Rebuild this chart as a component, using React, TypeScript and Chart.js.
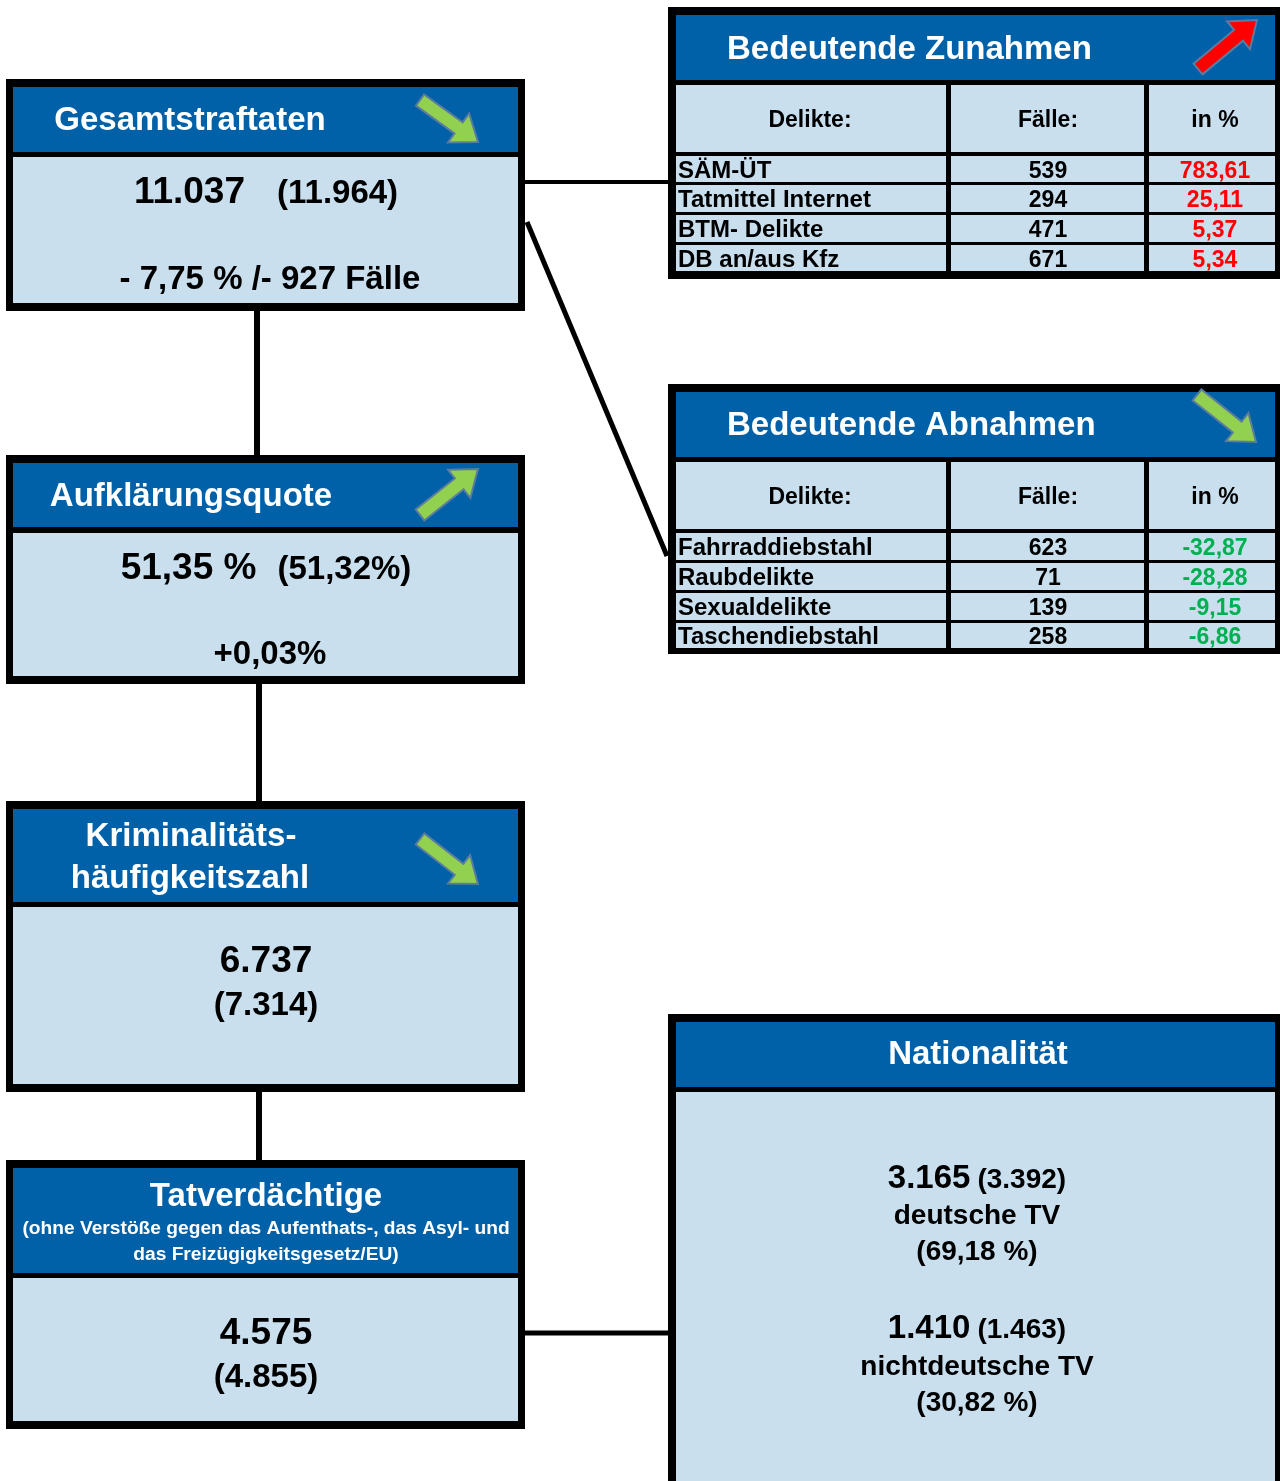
import React, { useEffect, useRef } from "react";
import { Chart, registerables } from "chart.js";

Chart.register(...registerables);

// ---- Data ----
const totalOffenses = [11037, 11964]; // current, (previous)
const totalChangePct = -7.75;
const totalChangeCases = -927;
const clearanceRate = [51.35, 51.32];
const clearanceChange = 0.03;
const crimeRate = [6737, 7314];
const suspects = [4575, 4855];
const germanSuspects = [3165, 3392];
const germanShare = 69.18;
const foreignSuspects = [1410, 1463];
const foreignShare = 30.82;

const increaseOffenses = ["SÄM-ÜT", "Tatmittel Internet", "BTM- Delikte", "DB an/aus Kfz"];
const increaseCases = [539, 294, 471, 671];
const increasePct = [783.61, 25.11, 5.37, 5.34];

const decreaseOffenses = ["Fahrraddiebstahl", "Raubdelikte", "Sexualdelikte", "Taschendiebstahl"];
const decreaseCases = [623, 71, 139, 258];
const decreasePct = [-32.87, -28.28, -9.15, -6.86];

const tableHeaders = ["Delikte:", "Fälle:", "in %"];

// ---- formatting ----
const fmtInt = (n: number) =>
  (n < 0 ? "-" : "") + Math.abs(n).toString().replace(/\B(?=(\d{3})+(?!\d))/g, ".");
const fmtDec = (n: number) => n.toFixed(2).replace(".", ",");

const BLUE = "#0060A8";
const LIGHT = "#C9DFEE";
const BLACK = "#000000";
const WHITE = "#FFFFFF";
const RED = "#FF0000";
const GREEN = "#00B050";
const ARROW_GREEN = "#92D050";
const FONT = '"Liberation Sans", Arial, Helvetica, sans-serif';

const infographic = {
  id: "infographic",
  beforeDraw(chart: any) {
    const ctx = chart.ctx;
    ctx.save();
    ctx.fillStyle = WHITE;
    ctx.fillRect(0, 0, chart.width, chart.height);
    ctx.restore();
  },
  afterDraw(chart: any) {
    const ctx: CanvasRenderingContext2D = chart.ctx;
    const xs = chart.scales.x;
    const ys = chart.scales.y;
    const X = (v: number) => xs.getPixelForValue(v);
    const Y = (v: number) => ys.getPixelForValue(v);

    const rect = (x0: number, y0: number, x1: number, y1: number, c: string) => {
      ctx.fillStyle = c;
      const a = X(x0), b = Y(y0), cc = X(x1), d = Y(y1);
      ctx.fillRect(Math.min(a, cc), Math.min(b, d), Math.abs(cc - a), Math.abs(d - b));
    };
    const line = (x0: number, y0: number, x1: number, y1: number, w: number) => {
      ctx.strokeStyle = BLACK;
      ctx.lineWidth = w;
      ctx.lineCap = "butt";
      ctx.beginPath();
      ctx.moveTo(X(x0), Y(y0));
      ctx.lineTo(X(x1), Y(y1));
      ctx.stroke();
    };
    const text = (
      s: string, x: number, y: number, size: number, color: string,
      align: CanvasTextAlign = "center"
    ) => {
      ctx.font = `bold ${size}px ${FONT}`;
      ctx.fillStyle = color;
      ctx.textAlign = align;
      ctx.textBaseline = "alphabetic";
      ctx.fillText(s, X(x), Y(y));
    };
    type Run = { s: string; size: number; gap?: number };
    const runs = (rs: Run[], cx: number, y: number, color: string) => {
      let total = 0;
      const widths = rs.map((r) => {
        ctx.font = `bold ${r.size}px ${FONT}`;
        const w = ctx.measureText(r.s).width;
        total += w + (r.gap || 0);
        return w;
      });
      let x = X(cx) - total / 2;
      rs.forEach((r, i) => {
        x += r.gap || 0;
        ctx.font = `bold ${r.size}px ${FONT}`;
        ctx.fillStyle = color;
        ctx.textAlign = "left";
        ctx.textBaseline = "alphabetic";
        ctx.fillText(r.s, x, Y(y));
        x += widths[i];
      });
    };
    const arrow = (tx: number, ty: number, hx: number, hy: number, fill: string) => {
      const x1 = X(tx), y1 = Y(ty), x2 = X(hx), y2 = Y(hy);
      const dx = x2 - x1, dy = y2 - y1;
      const L = Math.hypot(dx, dy);
      const ux = dx / L, uy = dy / L;
      const px = -uy, py = ux;
      const sw = 7, hw = 18, hl = 24;
      const nx = x2 - ux * hl, ny = y2 - uy * hl;
      const pts = [
        [x1 + px * sw, y1 + py * sw],
        [nx + px * sw, ny + py * sw],
        [nx + px * hw, ny + py * hw],
        [x2, y2],
        [nx - px * hw, ny - py * hw],
        [nx - px * sw, ny - py * sw],
        [x1 - px * sw, y1 - py * sw],
      ];
      ctx.beginPath();
      pts.forEach((p, i) => (i ? ctx.lineTo(p[0], p[1]) : ctx.moveTo(p[0], p[1])));
      ctx.closePath();
      ctx.fillStyle = fill;
      ctx.fill();
      ctx.strokeStyle = "#5A7CA0";
      ctx.lineWidth = 2;
      ctx.lineJoin = "miter";
      ctx.stroke();
    };

    // ---- connectors ----
    line(257, 311, 257, 456, 6);
    line(259, 684, 259, 802, 6);
    line(259, 1091, 259, 1161, 6);
    line(524, 182, 669, 182, 4);
    line(527, 222, 667, 556, 5);
    line(524, 1333, 669, 1333, 5);

    // ---- left boxes ----
    const box = (top: number, blueBottom: number, bodyTop: number, bottom: number) => {
      rect(6, top, 525, bottom, BLACK);
      rect(13, top + 8, 518, blueBottom, BLUE);
      rect(13, bodyTop, 518, bottom - 8, LIGHT);
    };
    box(79, 152, 157, 311);
    box(455, 527, 533, 684);
    box(801, 902, 907, 1092);
    box(1160, 1273, 1278, 1429);

    // Gesamtstraftaten
    text("Gesamtstraftaten", 190, 130, 33, WHITE);
    arrow(420, 100, 478, 142, ARROW_GREEN);
    runs(
      [
        { s: fmtInt(totalOffenses[0]), size: 37 },
        { s: `(${fmtInt(totalOffenses[1])})`, size: 33, gap: 32 },
      ],
      266, 203, BLACK
    );
    text(
      `- ${fmtDec(Math.abs(totalChangePct))} % /- ${Math.abs(totalChangeCases)} Fälle`,
      270, 289, 33, BLACK
    );

    // Aufklärungsquote
    text("Aufklärungsquote", 191, 506, 33, WHITE);
    arrow(420, 515, 478, 469, ARROW_GREEN);
    runs(
      [
        { s: `${fmtDec(clearanceRate[0])} %`, size: 37 },
        { s: `(${fmtDec(clearanceRate[1])}%)`, size: 33, gap: 21 },
      ],
      266, 579, BLACK
    );
    text(`+${fmtDec(clearanceChange)}%`, 270, 664, 33, BLACK);

    // Kriminalitätshäufigkeitszahl
    text("Kriminalitäts-", 191, 846, 33, WHITE);
    text("häufigkeitszahl", 190, 888, 33, WHITE);
    arrow(420, 839, 478, 884, ARROW_GREEN);
    text(fmtInt(crimeRate[0]), 266, 972, 37, BLACK);
    text(`(${fmtInt(crimeRate[1])})`, 266, 1015, 33, BLACK);

    // Tatverdächtige
    text("Tatverdächtige", 266, 1206, 33, WHITE);
    text("(ohne Verstöße gegen das Aufenthats-, das Asyl- und", 266, 1234, 19.2, WHITE);
    text("das Freizügigkeitsgesetz/EU)", 266, 1260, 19.2, WHITE);
    text(fmtInt(suspects[0]), 266, 1344, 37, BLACK);
    text(`(${fmtInt(suspects[1])})`, 266, 1387, 33, BLACK);

    // ---- tables ----
    const table = (
      top: number, title: string, titleBase: number, headerTop: number, headerBottom: number,
      rowTops: number[], rowBottoms: number[], bottom: number,
      labels: string[], cases: number[], pcts: number[], pctColor: string
    ) => {
      rect(668, top, 1280, bottom, BLACK);
      rect(676, top + 8, 1275, headerTop - 5, BLUE);
      const cols = [[676, 946], [951, 1144], [1149, 1275]];
      cols.forEach(([a, b]) => {
        rect(a, headerTop, b, headerBottom, LIGHT);
        rowTops.forEach((t, i) => rect(a, t, b, rowBottoms[i], LIGHT));
      });
      text(title, 727, titleBase, 33, WHITE, "left");
      const hb = (headerTop + headerBottom) / 2 + 8;
      text(tableHeaders[0], 810, hb, 23, BLACK);
      text(tableHeaders[1], 1048, hb, 23, BLACK);
      text(tableHeaders[2], 1215, hb, 23, BLACK);
      labels.forEach((lab, i) => {
        const b = (rowTops[i] + rowBottoms[i]) / 2 + 8.5;
        text(lab, 678, b, 24, BLACK, "left");
        text(fmtInt(cases[i]), 1048, b, 23, BLACK);
        text(fmtDec(pcts[i]), 1215, b, 23, pctColor);
      });
    };
    table(
      7, "Bedeutende Zunahmen", 59, 85, 152,
      [156, 185, 215, 245], [182, 212, 242, 271], 279,
      increaseOffenses, increaseCases, increasePct, RED
    );
    arrow(1198, 69, 1257, 20, RED);
    table(
      384, "Bedeutende Abnahmen", 435, 462, 529,
      [533, 563, 593, 623], [560, 590, 620, 648], 654,
      decreaseOffenses, decreaseCases, decreasePct, GREEN
    );
    arrow(1197, 395, 1256, 442, ARROW_GREEN);

    // ---- Nationalität ----
    rect(668, 1014, 1280, 1481, BLACK);
    rect(676, 1022, 1275, 1087, BLUE);
    rect(676, 1092, 1275, 1481, LIGHT);
    text("Nationalität", 978, 1064, 33, WHITE);
    runs(
      [
        { s: fmtInt(germanSuspects[0]), size: 33 },
        { s: `(${fmtInt(germanSuspects[1])})`, size: 28, gap: 7 },
      ],
      977, 1188, BLACK
    );
    text("deutsche TV", 977, 1224, 28, BLACK);
    text(`(${fmtDec(germanShare)} %)`, 977, 1260, 28, BLACK);
    runs(
      [
        { s: fmtInt(foreignSuspects[0]), size: 33 },
        { s: `(${fmtInt(foreignSuspects[1])})`, size: 28, gap: 7 },
      ],
      977, 1338, BLACK
    );
    text("nichtdeutsche TV", 977, 1375, 28, BLACK);
    text(`(${fmtDec(foreignShare)} %)`, 977, 1411, 28, BLACK);
  },
};

export default function App() {
  const ref = useRef<HTMLCanvasElement | null>(null);
  useEffect(() => {
    if (!ref.current) return;
    const chart = new Chart(ref.current, {
      type: "scatter",
      data: { datasets: [{ data: [], pointRadius: 0 }] },
      options: {
        responsive: false,
        animation: false,
        devicePixelRatio: 1,
        layout: { padding: 0 },
        plugins: { legend: { display: false }, tooltip: { enabled: false } },
        scales: {
          x: { type: "linear", min: 0, max: 1280, display: false },
          y: { type: "linear", min: 0, max: 1481, reverse: true, display: false },
        },
      },
      plugins: [infographic],
    });
    return () => chart.destroy();
  }, []);
  return (
    <div style={{ position: "absolute", left: 0, top: 0, width: 1280, height: 1481 }}>
      <canvas ref={ref} width={1280} height={1481} style={{ display: "block" }} />
    </div>
  );
}
